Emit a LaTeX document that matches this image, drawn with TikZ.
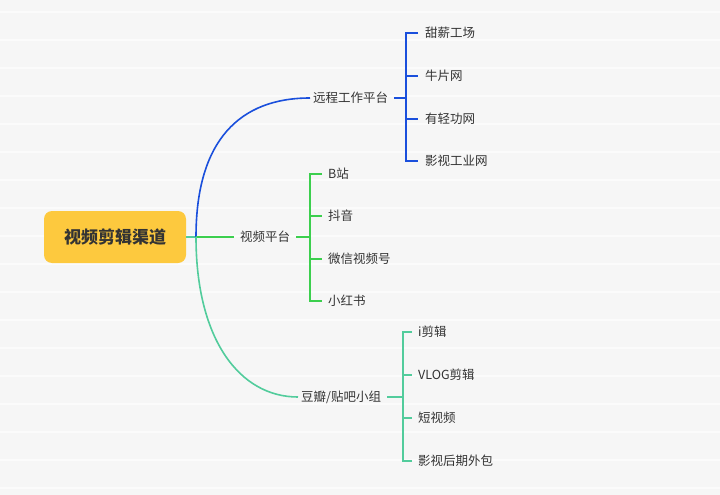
\documentclass[tikz,border=0pt]{standalone}
\usepackage{fontspec}
\newfontfamily\cjk{Noto Sans CJK SC}
\definecolor{bg}{HTML}{F6F6F6}
\definecolor{cb}{HTML}{1A4FDC}
\definecolor{cg}{HTML}{3CCF4E}
\definecolor{ct}{HTML}{52CC9C}
\definecolor{tx}{HTML}{333333}
\definecolor{rootc}{HTML}{FDC93E}
\begin{document}
\begin{tikzpicture}[x=1pt,y=-1pt,
  lbl/.style={font=\cjk\fontsize{12.5}{14}\selectfont, text=tx, inner sep=0pt, anchor=west},
  br/.style={line width=1.6pt}]
\useasboundingbox[fill=bg] (0,0) rectangle (720,495);
\foreach \yy in {12,40,...,495} \draw[white!60!bg, line width=2pt] (0,\yy) -- (720,\yy);
\node[fill=rootc, rounded corners=8pt, minimum width=142pt, minimum height=52pt, font=\cjk\bfseries\fontsize{17}{20}\selectfont, text=tx] (root) at (115,237) {视频剪辑渠道};
\coordinate (hub) at (196,237);
\draw[ct, br] (root.east) -- (hub);
% branch labels
\node[lbl] (b1) at (313,98) {远程工作平台};
\node[lbl] (b2) at (240,237) {视频平台};
\node[lbl] (b3) at (301,397) {豆瓣/贴吧小组};
\draw[cb, br] (hub) .. controls (196,140) and (240,98) .. ([xshift=-3pt]b1.west);
\draw[cg, br] (hub) -- ([xshift=-6pt]b2.west);
\draw[ct, br] (hub) .. controls (196,340) and (240,397) .. ([xshift=-3pt]b3.west);
% leaves 1
\foreach \t/\yy [count=\i] in {甜薪工场/33,牛片网/76,有轻功网/119,影视工业网/161}
  \node[lbl] (l1\i) at (425,\yy) {\t};
\draw[cb, br] ([xshift=6pt]b1.east) -- (406,98);
\draw[cb, br] (l11.west -| 418,0) -- (406,33) -- (406,161) -- (l14.west -| 418,0);
\draw[cb, br] (406,76) -- (l12.west -| 418,0);
\draw[cb, br] (406,119) -- (l13.west -| 418,0);
% leaves 2
\foreach \t/\yy [count=\i] in {B站/174,抖音/216,微信视频号/259,小红书/301}
  \node[lbl] (l2\i) at (328,\yy) {\t};
\draw[cg, br] ([xshift=6pt]b2.east) -- (310,237);
\draw[cg, br] (l21.west -| 322,0) -- (310,174) -- (310,301) -- (l24.west -| 322,0);
\draw[cg, br] (310,216) -- (l22.west -| 322,0);
\draw[cg, br] (310,259) -- (l23.west -| 322,0);
% leaves 3
\foreach \t/\yy [count=\i] in {i剪辑/332,VLOG剪辑/375,短视频/418,影视后期外包/461}
  \node[lbl] (l3\i) at (418,\yy) {\t};
\draw[ct, br] ([xshift=6pt]b3.east) -- (403,397);
\draw[ct, br] (l31.west -| 412,0) -- (403,332) -- (403,461) -- (l34.west -| 412,0);
\draw[ct, br] (403,375) -- (l32.west -| 412,0);
\draw[ct, br] (403,418) -- (l33.west -| 412,0);
\end{tikzpicture}
\end{document}
